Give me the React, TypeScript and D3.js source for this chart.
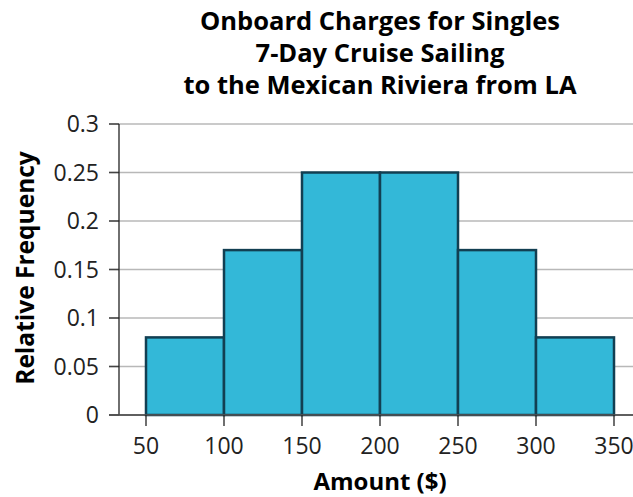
import React from "react";
import * as d3 from "d3";

const binStarts = [50, 100, 150, 200, 250, 300];
const binWidth = 50;
const relFreq = [0.08, 0.17, 0.25, 0.25, 0.17, 0.08];
const xTicks = [50, 100, 150, 200, 250, 300, 350];
const yTicks = [0, 0.05, 0.1, 0.15, 0.2, 0.25, 0.3];
const titleLines = [
  "Onboard Charges for Singles",
  "7-Day Cruise Sailing",
  "to the Mexican Riviera from LA",
];

const W = 633;
const H = 497;
const font = "'Open Sans', 'Noto Sans', sans-serif";

export default function App() {
  const x = d3.scaleLinear().domain([50, 350]).range([146, 614]);
  const y = d3.scaleLinear().domain([0, 0.3]).range([415, 124]);
  const axisLeft = 119;
  const gridLeft = 109;
  const gridRight = 633;

  return (
    <svg
      width={W}
      height={H}
      style={{ position: "absolute", left: 0, top: 0, background: "#fff" }}
      fontFamily={font}
    >
      {titleLines.map((t, i) => (
        <text
          key={i}
          x={380}
          y={30 + i * 31.8}
          textAnchor="middle"
          fontSize={25.5}
          fontWeight="bold"
          fill="#000"
        >
          {t}
        </text>
      ))}
      {yTicks.map((t) => (
        <line
          key={t}
          x1={gridLeft}
          x2={gridRight}
          y1={y(t)}
          y2={y(t)}
          stroke={t === 0 ? "#555" : "#b8b8b8"}
          strokeWidth={1.5}
        />
      ))}
      {yTicks.map((t) => (
        <line
          key={"tk" + t}
          x1={gridLeft}
          x2={axisLeft}
          y1={y(t)}
          y2={y(t)}
          stroke="#444"
          strokeWidth={1.5}
        />
      ))}
      <line x1={axisLeft} x2={axisLeft} y1={y(0.3)} y2={y(0)} stroke="#222" strokeWidth={1.3} />
      {binStarts.map((s, i) => (
        <rect
          key={s}
          x={x(s)}
          y={y(relFreq[i])}
          width={x(s + binWidth) - x(s)}
          height={y(0) - y(relFreq[i])}
          fill="#33b8d8"
          stroke="#123f52"
          strokeWidth={2.5}
        />
      ))}
      <line x1={gridLeft} x2={gridRight} y1={y(0)} y2={y(0)} stroke="#555" strokeWidth={1.5} />
      {xTicks.map((t) => (
        <g key={"x" + t}>
          <line x1={x(t)} x2={x(t)} y1={y(0)} y2={y(0) + 11} stroke="#222" strokeWidth={1.3} />
          <text x={x(t)} y={454} textAnchor="middle" fontSize={23} fill="#222">
            {t}
          </text>
        </g>
      ))}
      {yTicks.map((t) => (
        <text
          key={"yl" + t}
          x={99}
          y={y(t) + 8}
          textAnchor="end"
          fontSize={23}
          fill="#222"
        >
          {String(t)}
        </text>
      ))}
      <text x={380} y={490} textAnchor="middle" fontSize={24} fontWeight="bold" fill="#000">
        Amount ($)
      </text>
      <text
        transform={`translate(34, 268) rotate(-90)`}
        textAnchor="middle"
        fontSize={24.5}
        fontWeight="bold"
        fill="#000"
      >
        Relative Frequency
      </text>
    </svg>
  );
}
